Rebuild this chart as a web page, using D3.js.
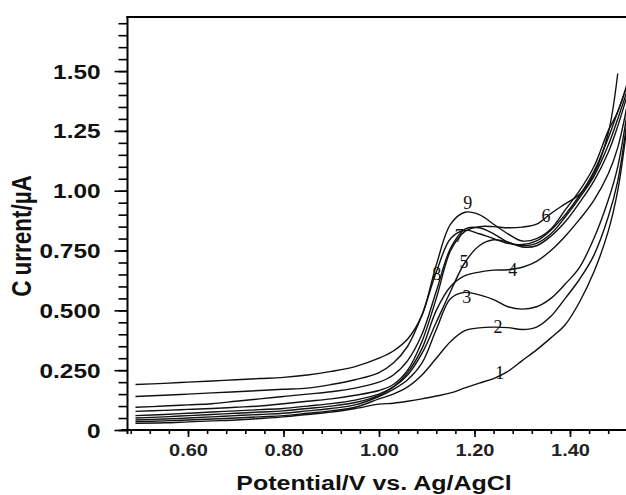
<!DOCTYPE html>
<html>
<head>
<meta charset="utf-8">
<script src="https://cdn.jsdelivr.net/npm/d3@7"></script>
<style>
  body { margin: 0; background: #fff; }
  svg { display: block; }
</style>
</head>
<body>
<svg id="chart" width="626" height="495"></svg>
<script>
// Potential grid (V vs. Ag/AgCl) shared by all scans
const potential = [0.49, 0.55, 0.60, 0.65, 0.70, 0.75, 0.80, 0.85, 0.90, 0.95,
                   1.00, 1.03, 1.06, 1.09, 1.12, 1.15, 1.18, 1.21, 1.24, 1.27,
                   1.30, 1.33, 1.36, 1.39, 1.42, 1.45, 1.48, 1.50, 1.52];

// Current (µA) for scans 1–9
const current1 = [.028,.030,.034,.038,.042,.048,.055,.065,.075,.090,.108,.112,.120,.130,.142,.155,.176,.196,.215,.245,.290,.335,.385,.440,.535,.660,.830,1.00,1.28];
const current2 = [.035,.038,.042,.046,.050,.055,.060,.070,.080,.095,.130,.150,.180,.230,.300,.370,.415,.427,.430,.428,.420,.430,.475,.550,.630,.730,.890,1.04,1.30];
const current3 = [.042,.046,.050,.055,.060,.065,.070,.080,.090,.105,.140,.170,.210,.280,.420,.550,.575,.565,.545,.515,.505,.515,.550,.610,.680,.800,.960,1.10,1.33];
const current4 = [.050,.055,.060,.065,.070,.075,.080,.090,.100,.115,.145,.180,.240,.340,.500,.600,.645,.660,.668,.670,.680,.705,.750,.810,.880,.960,1.07,1.18,1.36];
const current5 = [.060,.065,.070,.075,.080,.085,.090,.100,.110,.125,.150,.180,.230,.320,.450,.580,.700,.770,.795,.785,.765,.770,.810,.870,.950,1.04,1.16,1.27,1.40];
const current6 = [.078,.082,.086,.090,.095,.100,.110,.120,.130,.145,.165,.190,.250,.370,.550,.750,.830,.850,.850,.845,.848,.860,.905,.945,.985,1.07,1.24,1.49,null];
const current7 = [.095,.100,.105,.110,.120,.130,.140,.150,.160,.175,.200,.230,.290,.400,.580,.760,.840,.845,.820,.785,.770,.780,.820,.890,.970,1.06,1.19,1.30,1.42];
const current8 = [.140,.145,.150,.155,.160,.165,.170,.175,.190,.210,.240,.280,.350,.480,.660,.800,.835,.820,.800,.780,.775,.790,.835,.900,.980,1.08,1.22,1.33,1.44];
const current9 = [.190,.195,.200,.205,.210,.215,.220,.230,.245,.265,.300,.330,.380,.480,.690,.860,.910,.900,.860,.820,.790,.800,.840,.920,1.00,1.10,1.25,1.33,1.45];

// Scan number tags placed along the curves
const tagText      = ["1", "2", "3", "4", "5", "6", "7", "8", "9"];
const tagPotential = [1.253, 1.249, 1.184, 1.280, 1.178, 1.350, 1.168, 1.121, 1.186];
const tagCurrent   = [0.238, 0.430, 0.556, 0.669, 0.702, 0.894, 0.811, 0.652, 0.949];

// Axis ticks
const yMajor = [0, 0.25, 0.5, 0.75, 1.0, 1.25, 1.5];
const yMajorLabels = ["0", "0.250", "0.500", "0.750", "1.00", "1.25", "1.50"];
const xMajor = [0.6, 0.8, 1.0, 1.2, 1.4];
const xMajorLabels = ["0.60", "0.80", "1.00", "1.20", "1.40"];

const scans = [current1, current2, current3, current4, current5,
               current6, current7, current8, current9];

const svg = d3.select("#chart");
const plotLeft = 127.5, plotRight = 626, plotTop = 17, plotBottom = 430;

const x = d3.scaleLinear().domain([0.4733, 1.5173]).range([plotLeft, plotRight]);
const y = d3.scaleLinear().domain([0, 1.726]).range([plotBottom, plotTop]);

const stretch = 1.25; // wide lettering of the axis text

// minor tick values
const yMinor = d3.range(0, 1.7001, 0.05).map(v => +v.toFixed(2));
const xMinor = d3.range(0.48, 1.5101, 0.04).map(v => +v.toFixed(2));

// ---- y axis ----
const yAxisMinor = d3.axisLeft(y).tickValues(yMinor).tickSize(9).tickFormat("");
const gyMinor = svg.append("g").attr("transform", `translate(${plotLeft},0)`).call(yAxisMinor);
gyMinor.select(".domain").remove();

const yAxis = d3.axisLeft(y).tickValues(yMajor).tickSize(13)
  .tickFormat((d, i) => yMajorLabels[i]);
const gy = svg.append("g").attr("transform", `translate(${plotLeft},0)`).call(yAxis);
gy.select(".domain").remove();
gy.selectAll(".tick text")
  .attr("x", -27 / stretch)
  .attr("dy", "0.36em")
  .attr("transform", `scale(${stretch},1)`)
  .style("font-family", "'Liberation Sans', Arial, sans-serif")
  .style("font-weight", "bold")
  .style("font-size", "19.5px")
  .style("fill", "#111");

// ---- x axis ----
const xAxisMinor = d3.axisBottom(x).tickValues(xMinor).tickSize(4).tickFormat("");
const gxMinor = svg.append("g").attr("transform", `translate(0,${plotBottom})`).call(xAxisMinor);
gxMinor.select(".domain").remove();

const xAxis = d3.axisBottom(x).tickValues(xMajor).tickSize(7)
  .tickFormat((d, i) => xMajorLabels[i]);
const gx = svg.append("g").attr("transform", `translate(0,${plotBottom})`).call(xAxis);
gx.select(".domain").remove();
gx.selectAll(".tick text")
  .attr("y", 15)
  .attr("dy", "0.71em")
  .attr("transform", `scale(${stretch},1)`)
  .style("font-family", "'Liberation Sans', Arial, sans-serif")
  .style("font-weight", "bold")
  .style("font-size", "16px")
  .style("fill", "#222");

svg.selectAll(".tick line").attr("stroke", "#000").attr("stroke-width", 1.6);

// ---- frame lines ----
svg.append("line").attr("x1", plotLeft).attr("x2", plotLeft).attr("y1", plotTop - 1).attr("y2", plotBottom + 4)
  .attr("stroke", "#000").attr("stroke-width", 2);
svg.append("line").attr("x1", plotLeft - 1).attr("x2", plotRight).attr("y1", plotTop).attr("y2", plotTop)
  .attr("stroke", "#000").attr("stroke-width", 2);
svg.append("line").attr("x1", plotLeft - 6).attr("x2", plotRight).attr("y1", plotBottom).attr("y2", plotBottom)
  .attr("stroke", "#000").attr("stroke-width", 2);

// ---- voltammograms ----
svg.append("clipPath").attr("id", "plot-clip")
  .append("rect").attr("x", plotLeft).attr("y", plotTop)
  .attr("width", plotRight - plotLeft).attr("height", plotBottom - plotTop);

const line = d3.line()
  .defined(d => d[1] !== null)
  .x(d => x(d[0]))
  .y(d => y(d[1]))
  .curve(d3.curveCatmullRom.alpha(0.5));

svg.append("g").attr("clip-path", "url(#plot-clip)")
  .selectAll("path")
  .data(scans)
  .join("path")
  .attr("d", vals => line(potential.map((p, i) => [p, vals[i]])))
  .attr("fill", "none")
  .attr("stroke", "#111")
  .attr("stroke-width", 1.4)
  .attr("stroke-linejoin", "round");

// ---- scan tags ----
svg.append("g")
  .selectAll("text")
  .data(tagText)
  .join("text")
  .attr("x", (d, i) => x(tagPotential[i]))
  .attr("y", (d, i) => y(tagCurrent[i]))
  .attr("text-anchor", "middle")
  .attr("dominant-baseline", "central")
  .style("font-family", "'Liberation Serif', 'Times New Roman', serif")
  .style("font-size", "18px")
  .style("fill", "#111")
  .text(d => d);

// ---- axis titles ----
svg.append("text")
  .attr("transform", `translate(374,490) scale(${stretch},1)`)
  .attr("text-anchor", "middle")
  .style("font-family", "'Liberation Sans', Arial, sans-serif")
  .style("font-weight", "bold")
  .style("font-size", "20px")
  .style("fill", "#111")
  .text("Potential/V vs. Ag/AgCl");

const yTitle = svg.append("text")
  .attr("transform", `translate(31,236) rotate(-90) scale(1,${stretch})`)
  .attr("text-anchor", "middle")
  .style("font-family", "'Liberation Sans', Arial, sans-serif")
  .style("font-weight", "bold")
  .style("font-size", "22.5px")
  .style("fill", "#111");
yTitle.append("tspan").text("C");
yTitle.append("tspan").attr("dx", 5).text("urrent/µA");
</script>
</body>
</html>
